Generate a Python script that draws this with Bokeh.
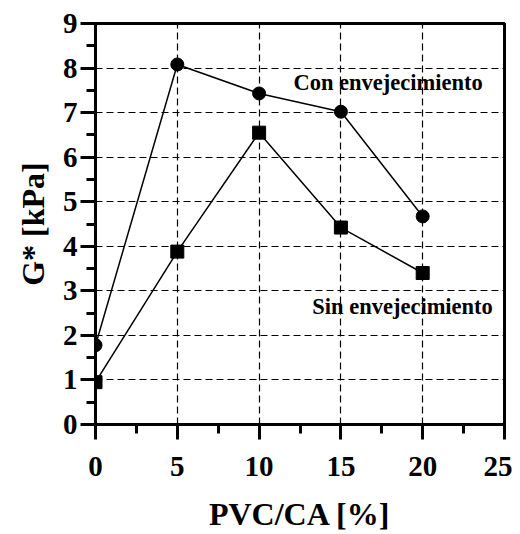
from bokeh.plotting import figure
from bokeh.models import FixedTicker, ColumnDataSource
from bokeh.core.properties import value
from bokeh.embed import file_html
from bokeh.resources import INLINE

pvc = [0, 5, 10, 15, 20]
con_env = [1.78, 8.08, 7.43, 7.02, 4.67]
sin_env = [0.95, 3.88, 6.55, 4.42, 3.40]

x_ticks = [0, 5, 10, 15, 20, 25]
x_minor = [2.5, 7.5, 12.5, 17.5, 22.5]
y_ticks = [0, 1, 2, 3, 4, 5, 6, 7, 8, 9]
y_minor = [0.5, 1.5, 2.5, 3.5, 4.5, 5.5, 6.5, 7.5, 8.5]

label_texts = ["Con envejecimiento", "Sin envejecimiento"]
label_x = [12.1, 13.25]
label_y = [7.68, 2.64]

FONT = "Liberation Serif"

p = figure(width=512, height=534, x_range=(0, 25), y_range=(0, 9),
           output_backend="svg", toolbar_location=None,
           min_border_left=95, min_border_right=8, min_border_top=23, min_border_bottom=102)

p.background_fill_color = "white"
p.border_fill_color = "white"
p.outline_line_color = "black"
p.outline_line_width = 3

for ax, ticks, minor in ((p.xaxis[0], x_ticks, x_minor), (p.yaxis[0], y_ticks, y_minor)):
    ax.ticker = FixedTicker(ticks=ticks, minor_ticks=minor)
    ax.axis_line_width = 3
    ax.axis_line_color = "black"
    ax.major_tick_line_width = 3
    ax.minor_tick_line_width = 3
    ax.major_tick_out = 15
    ax.major_tick_in = 0
    ax.minor_tick_out = 9
    ax.minor_tick_in = 0
    ax.major_label_text_font = FONT
    ax.major_label_text_font_style = "bold"
    ax.major_label_text_font_size = "29px"
    ax.major_label_text_color = "black"
    ax.axis_label_text_font = FONT
    ax.axis_label_text_font_style = "bold"
    ax.axis_label_text_font_size = "32px"
    ax.axis_label_text_color = "black"

p.xaxis.axis_label = "PVC/CA [%]"
p.yaxis.axis_label = "G* [kPa]"
p.xaxis.major_label_standoff = 17
p.yaxis.major_label_standoff = 3
p.xaxis.axis_label_standoff = 17
p.yaxis.axis_label_standoff = 9

for g in (p.xgrid[0], p.ygrid[0]):
    g.grid_line_color = "black"
    g.grid_line_width = 1.2
    g.grid_line_dash = "7 4"
p.xgrid.ticker = FixedTicker(ticks=x_ticks)
p.ygrid.ticker = FixedTicker(ticks=y_ticks)

src = ColumnDataSource(dict(x=pvc, con=con_env, sin=sin_env))
p.line("x", "con", source=src, line_color="black", line_width=1.5)
p.line("x", "sin", source=src, line_color="black", line_width=1.5)
p.scatter("x", "con", source=src, marker="circle", size=13, fill_color="black", line_color="black")
p.scatter("x", "sin", source=src, marker="square", size=13, fill_color="black", line_color="black")

lsrc = ColumnDataSource(dict(x=label_x, y=label_y, t=label_texts))
p.text("x", "y", text="t", source=lsrc, text_font=value(FONT), text_font_style="bold",
       text_font_size="22.5px", text_align="left", text_baseline="middle", text_color="black")

open("out.html", "w").write(file_html(p, INLINE))
